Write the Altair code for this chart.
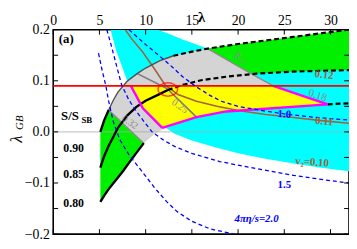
import altair as alt
import pandas as pd

SERIF = "Liberation Serif"

LAM_TICKS = [0, 5, 10, 15, 20, 25, 30]
GB_TICKS = [-0.2, -0.1, 0.0, 0.1, 0.2]
GB_MINOR = [-0.15, -0.05, 0.05, 0.15]

# S/S_SB contours
S90_LAM = [5.1, 5.5, 6.0, 6.5, 7.0, 8.0, 9.0, 10.0, 11.5, 13.0, 15.0, 16.7, 20.0, 23.0, 26.0, 29.0, 32.0]
S90_GB = [0.0, 0.022, 0.043, 0.062, 0.078, 0.099, 0.113, 0.125, 0.139, 0.149, 0.157, 0.163, 0.172, 0.179, 0.186, 0.193, 0.2]
S85_LAM = [5.1, 5.5, 6.0, 6.5, 7.0, 8.0, 9.0, 10.0, 11.5, 12.4, 14.0, 16.0, 18.7, 22.0, 26.0, 32.0]
S85_GB = [-0.07, -0.048, -0.027, -0.01, 0.008, 0.032, 0.049, 0.061, 0.074, 0.082, 0.092, 0.101, 0.108, 0.114, 0.118, 0.121]
S80_LAM = [5.1, 5.5, 6.0, 6.7, 7.5, 8.1, 9.0, 9.8, 11.0, 12.0, 13.5, 15.5, 18.7, 22.0, 26.0, 29.7, 32.0]
S80_GB = [-0.137, -0.125, -0.112, -0.096, -0.078, -0.063, -0.041, -0.022, -0.003, 0.006, 0.016, 0.026, 0.037, 0.045, 0.05, 0.054, 0.056]

# v2 contours
V12_LAM = [11.3, 12.5, 14.0, 15.5, 16.7, 20.0, 24.0, 28.0, 32.0]
V12_GB = [0.2, 0.192, 0.181, 0.171, 0.163, 0.15, 0.138, 0.128, 0.12]
V11_LAM = [7.8, 8.5, 9.7, 11.0, 12.1, 13.5, 15.5, 17.7, 20.0, 23.0, 26.0, 29.0, 32.0]
V11_GB = [0.2, 0.182, 0.156, 0.122, 0.092, 0.073, 0.06, 0.05, 0.042, 0.034, 0.028, 0.022, 0.017]
V10_LAM = [6.2, 6.8, 7.5, 8.0, 9.0, 10.0, 11.0, 12.0, 13.2, 15.0, 17.5, 20.0, 22.8, 26.0, 29.0, 32.0]
V10_GB = [0.2, 0.16, 0.125, 0.1, 0.07, 0.045, 0.025, 0.01, -0.004, -0.017, -0.03, -0.042, -0.052, -0.062, -0.07, -0.077]

# 4 pi eta / s contours
E10_LAM = [8.2, 9.0, 10.0, 11.0, 12.0, 13.0, 14.0, 15.5, 17.0, 18.2, 20.0, 22.5, 25.1, 28.0, 32.0]
E10_GB = [0.2, 0.187, 0.171, 0.156, 0.141, 0.125, 0.108, 0.088, 0.071, 0.06, 0.05, 0.042, 0.035, 0.029, 0.023]
E15_LAM = [5.8, 6.3, 6.8, 7.4, 8.2, 9.0, 10.0, 10.7, 12.0, 13.2, 15.0, 18.0, 22.0, 26.0, 29.0, 32.0]
E15_GB = [0.2, 0.168, 0.133, 0.092, 0.062, 0.04, 0.016, 0.0, -0.017, -0.029, -0.042, -0.058, -0.072, -0.085, -0.093, -0.1]
E20_LAM = [4.9, 5.3, 5.7, 6.0, 6.5, 7.2, 8.2, 9.5, 11.0, 12.3, 13.4, 15.0, 17.0, 19.6]
E20_GB = [0.154, 0.12, 0.09, 0.06, 0.02, -0.015, -0.045, -0.075, -0.11, -0.137, -0.156, -0.175, -0.19, -0.2]

# R_AA contours and the selected (yellow) region
RAA_LAM = [16.7, 19.0, 21.4, 23.8, 29.7]
RAA_GB = [0.163, 0.139, 0.114, 0.09, 0.054]
L32_LAM = [6.0, 9.8]
L32_GB = [0.043, -0.022]
L25_LAM = [9.1, 12.3, 15.5]
L25_GB = [0.114, 0.085, 0.029]
MAGL_LAM = [8.4, 9.7, 11.8]
MAGL_GB = [0.09, 0.046, 0.008]
YBOT_LAM = [11.8, 15.5, 18.7, 29.7]
YBOT_GB = [0.008, 0.029, 0.04, 0.054]
RED_GB = 0.09
CIRCLE = (12.4, 0.083)

XS = alt.Scale(domain=[0, 32], nice=False, zero=False)
YS = alt.Scale(domain=[-0.2, 0.2], nice=False, zero=False)

XAX = alt.Axis(
    orient="top", values=LAM_TICKS, ticks=False, domain=False, grid=False,
    labelFont=SERIF, labelFontSize=14, labelPadding=2, labelColor="black", labelFlush=False,
    title="\u03bb", titleFont=SERIF, titleFontSize=15, titleFontWeight="bold",
    titleY=-20, titleBaseline="top", titleColor="black")
YAX = alt.Axis(
    orient="left", values=GB_TICKS, format=".1f", ticks=False, domain=False, grid=False,
    labelFont=SERIF, labelFontSize=14, labelPadding=4, labelColor="black", labelFlush=False,
    title="")


def X():
    return alt.X("lam:Q", scale=XS, axis=XAX)


def Y():
    return alt.Y("gb:Q", scale=YS, axis=YAX)


def df_of(lams, gbs):
    return pd.DataFrame({"lam": list(lams), "gb": list(gbs), "i": list(range(len(lams)))})


def seg(lams, gbs, lo, hi):
    pts = [(l, g) for l, g in zip(lams, gbs) if lo - 1e-9 <= l <= hi + 1e-9]
    return [p[0] for p in pts], [p[1] for p in pts]


def xy(chart):
    return chart.encode(x=X(), y=Y(), order=alt.Order("i:Q"))


def poly(lams, gbs, color):
    return xy(alt.Chart(df_of(lams, gbs)).mark_line(
        fill=color, strokeOpacity=0, interpolate="linear-closed", clip=True))


def line(lams, gbs, color, width, dash=None, opacity=1.0):
    kw = dict(color=color, strokeWidth=width, clip=True, opacity=opacity)
    if dash:
        kw["strokeDash"] = dash
    return xy(alt.Chart(df_of(lams, gbs)).mark_line(**kw))


def label(text, lam, gb, color, size, angle=0, weight="normal", style="normal", align="center", font=SERIF):
    return alt.Chart(pd.DataFrame({"lam": [lam], "gb": [gb], "t": [text]})).mark_text(
        color=color, fontSize=size, angle=angle, fontWeight=weight, fontStyle=style,
        align=align, baseline="middle", font=font,
    ).encode(x=X(), y=Y(), text="t:N")


layers = []

# cyan band between v2 = 0.10 and v2 = 0.12
layers.append(poly(V12_LAM + V10_LAM[::-1], V12_GB + V10_GB[::-1], "#00ffff"))

# gray region
a_l, a_g = seg(S90_LAM, S90_GB, 6.0, 16.7)
c_l, c_g = seg(S80_LAM, S80_GB, 9.8, 13.5)
gl = L32_LAM[::-1] + a_l[1:] + RAA_LAM[1:] + YBOT_LAM[::-1][1:3] + c_l[::-1][:-1]
gg = L32_GB[::-1] + a_g[1:] + RAA_GB[1:] + YBOT_GB[::-1][1:3] + c_g[::-1][:-1]
layers.append(poly(gl, gg, "#d4d4d4"))

# green left
a_l, a_g = seg(S90_LAM, S90_GB, 5.1, 6.0)
c_l, c_g = seg(S80_LAM, S80_GB, 5.1, 9.8)
layers.append(poly(a_l + L32_LAM[1:] + c_l[::-1][1:], a_g + L32_GB[1:] + c_g[::-1][1:], "#00f000"))

# green right
a_l, a_g = seg(S90_LAM, S90_GB, 16.7, 32)
b_l, b_g = seg(S85_LAM, S85_GB, 22, 32)
r_l, r_g = seg(RAA_LAM, RAA_GB, 16.7, 21.4)
layers.append(poly(a_l + b_l[::-1] + r_l[::-1][:-1], a_g + b_g[::-1] + r_g[::-1][:-1], "#00f000"))

# yellow region
yl = [MAGL_LAM[0]] + RAA_LAM[3:] + YBOT_LAM[::-1][1:] + MAGL_LAM[1:2]
yg = [RED_GB] + RAA_GB[3:] + YBOT_GB[::-1][1:] + MAGL_GB[1:2]
layers.append(poly(yl, yg, "#ffff00"))

# zero line
layers.append(line([0, 32], [0, 0], "#a8a8a8", 0.8))

# brown v2 = 0.11
layers.append(line(V11_LAM, V11_GB, "#a0643c", 1.6))

# gray R_AA contours
layers.append(line(L32_LAM, L32_GB, "#8c8c8c", 1.4))
layers.append(line(L25_LAM, L25_GB, "#7c7c7c", 1.6))
r_l, r_g = seg(RAA_LAM, RAA_GB, 16.7, 23.8)
layers.append(line(r_l, r_g, "#8c8c8c", 1.3))

# S/S_SB curves
for lams, gbs, solid_hi, thin_hi, dash_lo in [
    (S90_LAM, S90_GB, 6.0, 13.0, 13.0),
    (S85_LAM, S85_GB, 12.4, 12.4, 12.4),
    (S80_LAM, S80_GB, 9.8, 9.8, 29.7),
]:
    l1, g1 = seg(lams, gbs, 0, solid_hi)
    layers.append(line(l1, g1, "black", 2.4))
    if thin_hi > solid_hi:
        l2, g2 = seg(lams, gbs, solid_hi, thin_hi)
        layers.append(line(l2, g2, "#505050", 1.4))
    l3, g3 = seg(lams, gbs, dash_lo, 40)
    layers.append(line(l3, g3, "black", 2.2, dash=[5, 3]))

# magenta border of the yellow region
layers.append(line(MAGL_LAM, MAGL_GB, "#ff00ff", 2.4))
layers.append(line(YBOT_LAM, YBOT_GB, "#ff00ff", 2.4))
r_l, r_g = seg(RAA_LAM, RAA_GB, 23.8, 29.7)
layers.append(line(r_l, r_g, "#ff00ff", 2.4))

# red line
layers.append(line([0, 32], [RED_GB, RED_GB], "#ff0000", 1.6))

# blue dashed eta/s contours
for lams, gbs in [(E10_LAM, E10_GB), (E15_LAM, E15_GB), (E20_LAM, E20_GB)]:
    layers.append(line(lams, gbs, "#0000ff", 1.3, dash=[4, 3]))

# red ellipse
layers.append(
    alt.Chart(pd.DataFrame({"lam": [CIRCLE[0]], "gb": [CIRCLE[1]]}))
    .mark_point(shape="M-1,0A1,0.68,0,1,1,1,0A1,0.68,0,1,1,-1,0Z", size=400,
                color="#ff0000", strokeWidth=1.5, filled=False)
    .encode(x=X(), y=Y())
)

# text labels
layers += [
    label("(a)", 0.6, 0.181, "black", 13, weight="bold", align="left"),
    label("S/S", 0.85, 0.031, "black", 13, weight="bold", align="left"),
    label("SB", 3.05, 0.023, "black", 9, weight="bold", align="left"),
    label("0.90", 1.1, -0.031, "black", 12, weight="bold", align="left"),
    label("0.85", 1.1, -0.083, "black", 12, weight="bold", align="left"),
    label("0.80", 1.1, -0.14, "black", 12, weight="bold", align="left"),
    label("0.32", 8.3, 0.019, "#8c8c8c", 10, angle=35),
    label("0.25", 13.7, 0.05, "#8c8c8c", 10, angle=35),
    label("0.18", 28.6, 0.071, "#8c8c8c", 11, angle=18),
    label("R\u2090\u2090\u1d9c", 20.3, 0.145, "#8c8c8c", 10, angle=35),
    label("0.12", 29.3, 0.111, "#a0643c", 11, weight="bold", angle=6),
    label("0.11", 29.3, 0.02, "#a0643c", 11, weight="bold", angle=6),
    label("v\u2082=0.10", 28.0, -0.06, "#a0643c", 11, weight="bold", angle=4),
    label("1.0", 25.0, 0.034, "#0000ff", 11, weight="bold", angle=4),
    label("1.5", 25.0, -0.104, "#0000ff", 11, weight="bold"),
    label("4\u03c0\u03b7/s=2.0", 22.0, -0.171, "#0000ff", 11, weight="bold", style="italic"),
]

# y-axis title (lambda_GB)
layers.append(
    alt.Chart(pd.DataFrame({"gb": [-0.014], "t": ["\u03bb"]})).mark_text(
        font=SERIF, fontSize=17, fontStyle="italic", angle=270, color="black", baseline="middle")
    .encode(x=alt.value(-37), y=Y(), text="t:N")
)
layers.append(
    alt.Chart(pd.DataFrame({"gb": [0.018], "t": ["GB"]})).mark_text(
        font=SERIF, fontSize=11, fontStyle="italic", angle=270, color="black", baseline="middle")
    .encode(x=alt.value(-34), y=Y(), text="t:N")
)

# ticks (inward) on all four sides
xt = pd.DataFrame({"lam": LAM_TICKS})
yt = pd.DataFrame({"gb": GB_TICKS + GB_MINOR})
layers.append(alt.Chart(xt).mark_rule(color="black", strokeWidth=1).encode(
    x=X(), y=alt.value(0), y2=alt.value(5)))
layers.append(alt.Chart(xt).mark_rule(color="black", strokeWidth=1).encode(
    x=X(), y=alt.value(208), y2=alt.value(203)))
layers.append(alt.Chart(yt).mark_rule(color="black", strokeWidth=1).encode(
    y=Y(), x=alt.value(0), x2=alt.value(5)))
layers.append(alt.Chart(yt).mark_rule(color="black", strokeWidth=1).encode(
    y=Y(), x=alt.value(301), x2=alt.value(296)))

chart = alt.layer(*layers).properties(
    width=301, height=208,
    padding={"left": 46, "top": 20, "right": 0, "bottom": 8},
    autosize=alt.AutoSizeParams(type="none"),
).configure_view(stroke="black", strokeWidth=1.6)

chart.save("out.html", embed_options={"renderer": "svg", "actions": False})
